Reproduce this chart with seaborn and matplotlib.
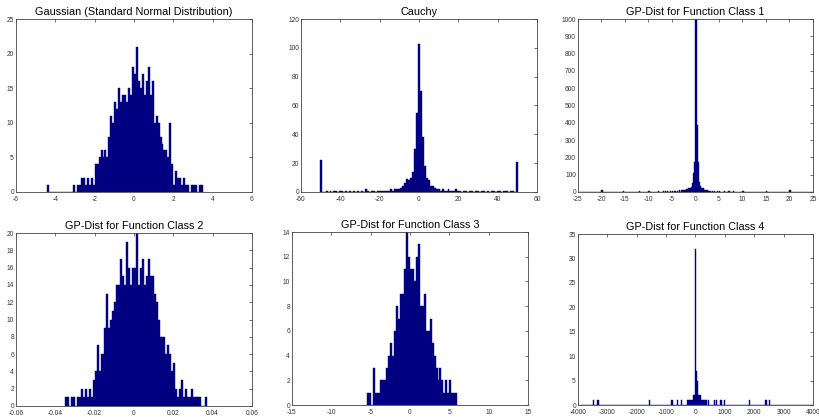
import numpy as np
import pandas as pd
import matplotlib
matplotlib.use('Agg')
import matplotlib.pyplot as plt
import seaborn as sns
from matplotlib.ticker import FuncFormatter

# Datos (alturas de barra por bin)
gauss_start, gauss_width = -4.4, 0.1
gauss_counts = [1, 0, 0, 0, 0, 0, 0, 0, 0, 0, 0, 0, 0, 1, 0, 1, 1, 2, 2, 1, 2, 1, 2, 1,
                4, 4, 5, 6, 5, 6, 5, 8, 11, 10, 13, 12, 15, 13, 14, 14, 13, 15, 14, 18,
                17, 21, 16, 15, 17, 14, 16, 18, 14, 16, 10, 11, 10, 8, 7, 6, 6, 5, 10, 4,
                1, 3, 2, 2, 1, 2, 1, 1, 0, 1, 1, 1, 0, 1, 1]

cauchy_start, cauchy_width = -50.5, 1.0
cauchy_counts = [22, 0, 0, 1, 0, 1, 0, 1, 1, 0, 1, 1, 0, 1, 0, 1, 0, 1, 0, 1, 0, 1, 0, 2, 1,
                 0, 1, 1, 0, 1, 1, 1, 1, 1, 1, 1, 2, 1, 2, 2, 2, 3, 4, 6, 9, 8, 10, 14, 30, 55,
                 103,
                 70, 38, 18, 10, 8, 4, 4, 3, 2, 2, 1, 2, 1, 1, 2, 1, 1, 1, 2, 1, 1, 0, 1, 1,
                 0, 1, 1, 0, 1, 1, 0, 1, 1, 0, 1, 0, 1, 1, 0, 1, 1, 0, 1, 1, 1, 0, 1, 1, 0, 21]

# clase 1: bins de 0.25 (borde izquierdo) con su altura
class1_width = 0.25
class1_left = [-20, -15.5, -12, -10, -8, -7, -6.5, -6, -5.5, -5, -4.5, -4, -3.5, -3, -2.75,
               -2.5, -2.25, -2, -1.75, -1.5, -1.25, -1, -0.75, -0.5, -0.25, 0, 0.25, 0.5,
               0.75, 1, 1.25, 1.5, 1.75, 2, 2.25, 2.5, 2.75, 3, 3.5, 4, 4.5, 5, 6, 7, 8, 10,
               12, 15, 20]
class1_counts = [12, 3, 3, 4, 5, 6, 4, 5, 6, 7, 6, 8, 9, 10, 12,
                 12, 13, 15, 16, 22, 25, 30, 50, 108, 175, 1000, 390, 175,
                 60, 35, 25, 21, 14, 12, 10, 12, 8, 7, 6, 5, 5, 4, 4, 3, 3, 3,
                 2, 3, 10]

class2_start, class2_width = -0.035, 0.001
class2_counts = [1, 1, 0, 1, 1, 0, 1, 1, 2, 1, 2, 1, 2, 1, 3, 4, 7, 4, 6, 6, 9, 13, 9, 10,
                 11, 12, 14, 14, 17, 15, 14, 19, 16, 14, 16, 16, 20, 14, 16, 17, 14, 15, 17,
                 15, 15, 13, 12, 10, 8, 8, 8, 6, 7, 6, 4, 5, 2, 1, 2, 3, 1, 2, 1, 1, 2, 1,
                 1, 1, 1, 0, 0, 1]

class3_start, class3_width = -5.5, 0.25
class3_counts = [1, 1, 0, 3, 1, 1, 1, 2, 2, 2, 3, 4, 5, 4, 6, 8, 7, 9, 9, 11, 14, 12, 11,
                 11, 10, 12, 13, 8, 8, 9, 6, 6, 7, 5, 4, 3, 2, 3, 2, 1, 2, 1, 2, 1, 1, 1]

# clase 4: centros de bin (ancho 40) con su altura
class4_width = 40
class4_centers = [-3480, -3320, -1560, -800, -600, -480, -280, -240, -200, -160, -120, -80,
                  -40, 0, 40, 80, 120, 160, 200, 240, 280, 320, 360, 440, 640, 720, 840, 880,
                  1000, 1840, 2400, 2520]
class4_counts = [1, 1, 1, 1, 1, 1, 1, 1, 1, 1, 1, 2,
                 2, 32, 7, 5, 2, 2, 1, 1, 1, 1, 1, 1, 1, 1, 1, 1,
                 1, 1, 1, 1]

BAR = '#000080'


def uniform_hist(start, width, counts):
    n = len(counts)
    edges = start + width * np.arange(n + 1)
    centers = edges[:-1] + width / 2
    return centers, np.array(counts, dtype=float), edges


def fmt(v, pos):
    if abs(v) < 1e-12:
        return '0'
    return '%g' % v


sns.set_style('white')
plt.rcParams['font.family'] = ['Liberation Sans', 'DejaVu Sans']

fig = plt.figure(figsize=(8.2, 4.2), dpi=100)
W, H = 820.0, 420.0

panels = []

c, w, e = uniform_hist(gauss_start, gauss_width, gauss_counts)
panels.append(dict(title='Gaussian (Standard Normal Distribution)', x=c, w=w, bins=e,
                   xlim=(-6, 6), xt=np.linspace(-6, 6, 7), ylim=(0, 25), yt=np.arange(0, 26, 5),
                   box=(16, 252, 19, 192)))

c, w, e = uniform_hist(cauchy_start, cauchy_width, cauchy_counts)
panels.append(dict(title='Cauchy', x=c, w=w, bins=e,
                   xlim=(-60, 60), xt=np.linspace(-60, 60, 7), ylim=(0, 120), yt=np.arange(0, 121, 20),
                   box=(301, 537, 19, 192)))

e1 = np.arange(-25, 25 + class1_width / 2, class1_width)
panels.append(dict(title='GP-Dist for Function Class 1',
                   x=np.array(class1_left) + class1_width / 2, w=np.array(class1_counts, dtype=float),
                   bins=e1, xlim=(-25, 25), xt=np.arange(-25, 26, 5), ylim=(0, 1000),
                   yt=np.arange(0, 1001, 100), box=(578, 813, 19, 192)))

c, w, e = uniform_hist(class2_start, class2_width, class2_counts)
panels.append(dict(title='GP-Dist for Function Class 2', x=c, w=w, bins=e,
                   xlim=(-0.06, 0.06), xt=np.linspace(-0.06, 0.06, 7), ylim=(0, 20),
                   yt=np.arange(0, 21, 2), box=(16, 252, 233, 406)))

c, w, e = uniform_hist(class3_start, class3_width, class3_counts)
panels.append(dict(title='GP-Dist for Function Class 3', x=c, w=w, bins=e,
                   xlim=(-15, 15), xt=np.arange(-15, 16, 5), ylim=(0, 14),
                   yt=np.arange(0, 15, 2), box=(292, 528, 232, 405)))

e4 = np.arange(-4000 - class4_width / 2, 4000 + class4_width, class4_width)
panels.append(dict(title='GP-Dist for Function Class 4',
                   x=np.array(class4_centers, dtype=float), w=np.array(class4_counts, dtype=float),
                   bins=e4, xlim=(-4000, 4000), xt=np.arange(-4000, 4001, 1000), ylim=(0, 35),
                   yt=np.arange(0, 36, 5), box=(578, 813, 234, 405)))

for p in panels:
    l, r, t, b = p['box']
    ax = fig.add_axes([l / W, 1 - b / H, (r - l) / W, (b - t) / H])
    df = pd.DataFrame({'valor': p['x'], 'cuenta': p['w']})
    sns.histplot(data=df, x='valor', weights='cuenta', bins=list(p['bins']), ax=ax, color=BAR,
                 alpha=1, edgecolor=BAR, linewidth=0.3, stat='count')
    ax.set_xlim(*p['xlim'])
    ax.set_ylim(*p['ylim'])
    ax.set_xticks(p['xt'])
    ax.set_yticks(p['yt'])
    ax.xaxis.set_major_formatter(FuncFormatter(fmt))
    ax.yaxis.set_major_formatter(FuncFormatter(fmt))
    ax.set_xlabel('')
    ax.set_ylabel('')
    ax.set_title(p['title'], fontsize=7.8, pad=3, color='black')
    ax.tick_params(direction='in', top=True, right=True, length=2.5, width=0.5,
                   labelsize=4.8, colors='#333333')
    ax.tick_params(axis='x', pad=2.8)
    ax.tick_params(axis='y', pad=1.5)
    for s in ax.spines.values():
        s.set_linewidth(0.6)
        s.set_color('#444444')
        s.set_visible(True)

fig.savefig('out.png', dpi=100, facecolor='white')
